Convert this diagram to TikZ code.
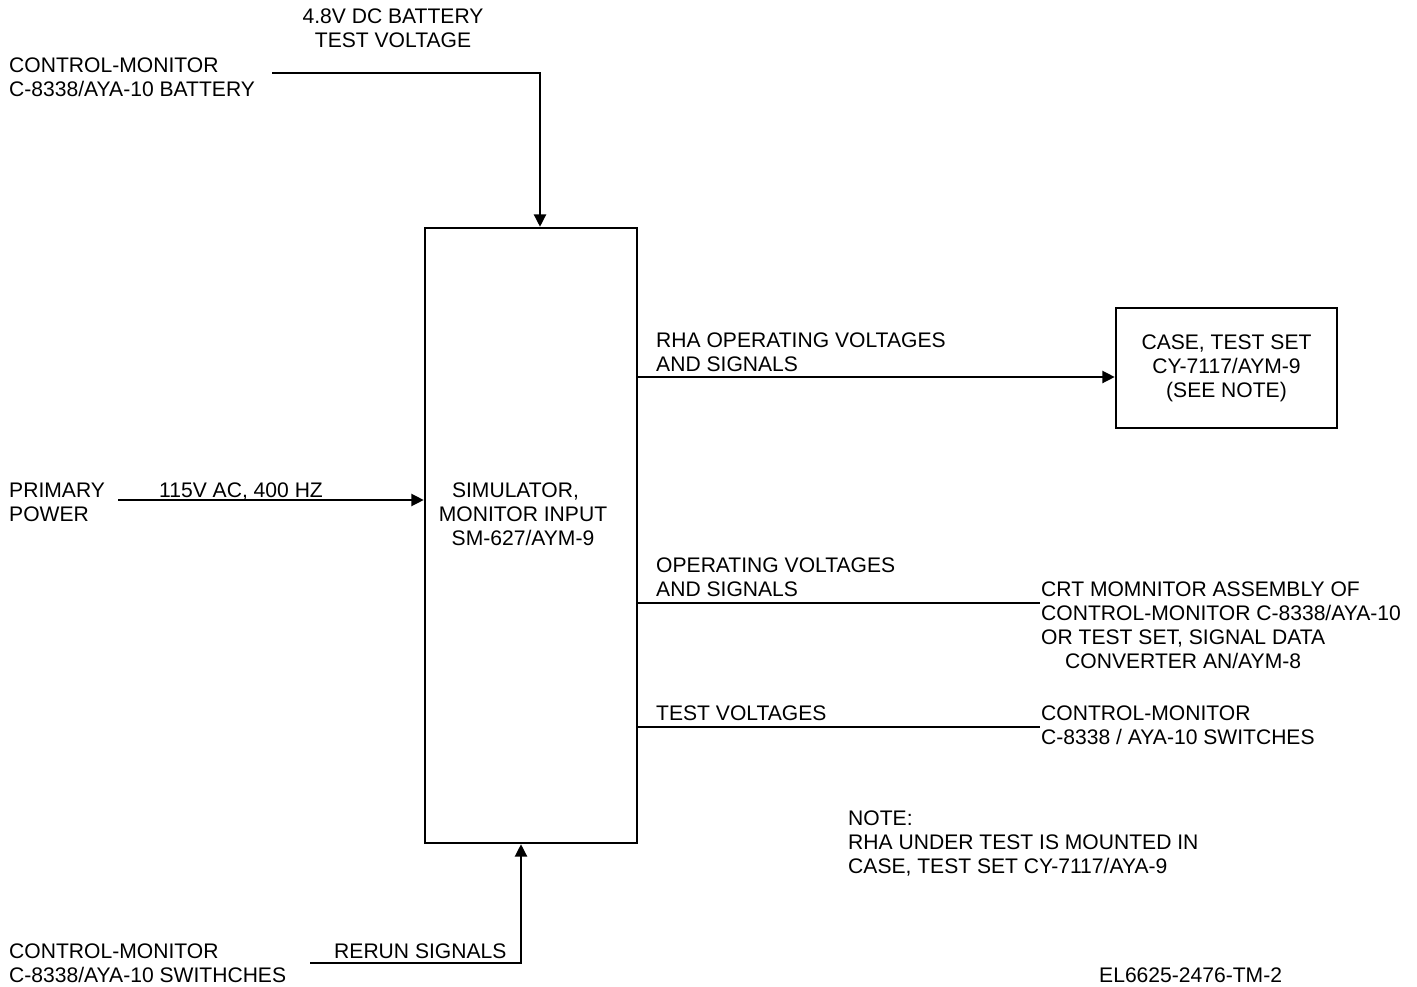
\documentclass[tikz,border=0pt]{standalone}
\usepackage{fontspec}
\setmainfont{Liberation Sans}
\usetikzlibrary{arrows.meta, positioning}

\begin{document}
\begin{tikzpicture}[
    x=0.02cm, y=-0.02cm,
    line width=1.4pt,
    arr/.style={-{Triangle[length=2.5mm, width=2.4mm]}},
    lbl/.style={font=\fontsize{12}{13.66}\selectfont, inner sep=0pt, align=left, anchor=north west},
    ctr/.style={lbl, align=center, anchor=north},
    unit/.style={draw, inner sep=0pt, font=\fontsize{12}{13.66}\selectfont, align=center},
]
\useasboundingbox (0,0) rectangle (1417,987);

% Units
\node[unit, minimum width=4.24cm, minimum height=12.3cm] (sim) at (531,535.5) {};
\node[ctr] (simtxt) at (523,482) {SIMULATOR,\hspace*{0.3cm}\\MONITOR INPUT\\SM-627/AYM-9};
\node[unit, minimum width=4.42cm, minimum height=2.4cm] (case) at (1226.5,368) {CASE, TEST SET\\CY-7117/AYM-9\\(SEE NOTE)};

% Battery input
\node[ctr] (battop) at (393,8) {4.8V DC BATTERY\\TEST VOLTAGE};
\node[lbl] (batunit) at (8,57) {CONTROL-MONITOR\\C-8338/AYA-10 BATTERY};
\coordinate (batsrc) at (272,73);
\draw[arr] (batsrc) -| ([xshift=0.18cm]sim.north);

% Primary power
\node[lbl] (pwrunit) at (8,482) {PRIMARY\\POWER};
\node[lbl] (pwrlbl) at (158,482) {115V AC, 400 HZ};
\coordinate (pwrsrc) at (118,500);
\draw[arr] (pwrsrc) -- (pwrsrc -| sim.west);

% RHA operating voltages
\node[lbl] (rhalbl) at (655,332) {RHA OPERATING VOLTAGES\\AND SIGNALS};
\coordinate (rhaout) at (sim.east |- 0,377);
\draw[arr] (rhaout) -- (rhaout -| case.west);

% Operating voltages
\node[lbl] (oplbl) at (655,557) {OPERATING VOLTAGES\\AND SIGNALS};
\node[lbl] (crt) at (1040,581) {CRT MOMNITOR ASSEMBLY OF\\CONTROL-MONITOR C-8338/AYA-10\\OR TEST SET, SIGNAL DATA\\\hspace*{0.48cm}CONVERTER AN/AYM-8};
\coordinate (opout) at (sim.east |- 0,603);
\draw (opout) -- (opout -| crt.west);

% Test voltages
\node[lbl] (tvlbl) at (655,705) {TEST VOLTAGES};
\node[lbl] (swunit) at (1040,705) {CONTROL-MONITOR\\C-8338 / AYA-10 SWITCHES};
\coordinate (tvout) at (sim.east |- 0,727);
\draw (tvout) -- (tvout -| swunit.west);

% Rerun signals
\node[lbl] (rrunit) at (8,943) {CONTROL-MONITOR\\C-8338/AYA-10 SWITHCHES};
\node[lbl] (rrlbl) at (333,943) {RERUN SIGNALS};
\coordinate (rrsrc) at (310,963);
\draw[arr] (rrsrc) -| ([xshift=-0.2cm]sim.south);

% Note
\node[lbl] (note) at (847,810) {NOTE:\\RHA UNDER TEST IS MOUNTED IN\\CASE, TEST SET CY-7117/AYA-9};
\node[lbl] (docid) at (1098,967) {EL6625-2476-TM-2};

\end{tikzpicture}
\end{document}
